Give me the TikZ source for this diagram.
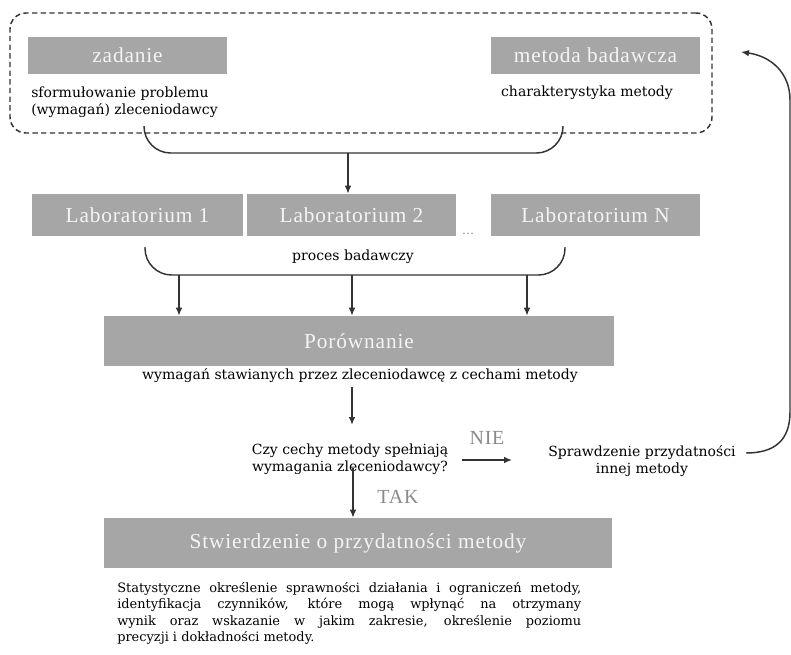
\documentclass[tikz,border=0pt]{standalone}
\usepackage{fontspec}
\usepackage{xcolor}
\usepackage{tikz}
\usetikzlibrary{arrows.meta}
\setmainfont{DejaVu Serif}
\newfontfamily\boxfont[LetterSpace=4]{Liberation Serif}
\definecolor{boxgray}{HTML}{A6A6A6}
\definecolor{boxtext}{HTML}{F4F4F4}
\definecolor{linegray}{HTML}{333333}
\definecolor{labelgray}{HTML}{8A8A8A}

\begin{document}
\begin{tikzpicture}[x=0.75pt,y=-0.75pt,
      >={Latex[length=6pt,width=5pt]},
      greybox/.style={fill=boxgray,text=boxtext,inner sep=0pt,minimum height=31.5pt,
        font=\boxfont\fontsize{16}{18}\selectfont},
      note/.style={inner sep=0pt,align=center,font=\fontsize{10.5}{12.75}\selectfont},
      yesno/.style={text=labelgray,inner sep=0pt,font=\boxfont\fontsize{15}{17}\selectfont},
      link/.style={draw=linegray,line width=1.1pt}]
      \useasboundingbox (0,0) rectangle (791,654);
      % top group
      \node[draw=linegray,line width=1.1pt,dash pattern=on 4pt off 2.5pt,rounded corners=12pt,
        minimum width=526.5pt,minimum height=90pt] (frame) at (361,73) {};
      \node[greybox,minimum width=149.25pt,minimum height=27.75pt] (zadanie) at (127.5,55.5) {zadanie};
      \node[greybox,minimum width=156.75pt,minimum height=27.75pt] (metoda) at (595.5,55.5) {metoda badawcza};
      \node[note,align=left,anchor=west] (problem) at (31,102) {sformułowanie problemu\\(wymagań) zleceniodawcy};
      \node[note] (charakt) at (587,93) {charakterystyka metody};
      % laboratories
      \node[greybox,minimum width=158.25pt] (lab1) at (137.5,215) {Laboratorium 1};
      \node[greybox,minimum width=156.75pt] (lab2) at (351.5,215) {Laboratorium 2};
      \node[greybox,minimum width=156.75pt] (labN) at (595.5,215) {Laboratorium N};
      \node[inner sep=0pt,text=labelgray,font=\small] (dots) at (468,234) {\dots};
      \node[note] (proces) at (353,257) {proces badawczy};
      % comparison and decision
      \node[greybox,minimum width=382.5pt,minimum height=37.5pt] (porown) at (359,341) {Porównanie};
      \node[note] (wymagan) at (360,376) {wymagań stawianych przez zleceniodawcę z cechami metody};
      \node[note] (pytanie) at (350,459) {Czy cechy metody spełniają\\wymagania zleceniodawcy?};
      \node[note] (sprawdz) at (642,461) {Sprawdzenie przydatności\\innej metody};
      \node[yesno] (nie) at (487,438) {NIE};
      \node[yesno] (tak) at (398,497) {TAK};
      \node[greybox,minimum width=381pt,minimum height=37.5pt] (stwierdz) at (358,543) {Stwierdzenie o przydatności metody};
      \node[note,align=justify,text width=348pt,anchor=north west,
        font=\fontsize{9.7}{12.4}\selectfont] (opis) at (117,582)
        {Statystyczne określenie sprawności działania i~ograniczeń metody,\linebreak
         identyfikacja czynników, które mogą wpłynąć na otrzymany\linebreak
         wynik oraz wskazanie w jakim zakresie, określenie poziomu\linebreak
         precyzji i dokładności metody.};

      \coordinate (b1l) at (144,126);
      \coordinate (b1r) at (563,126);
      \coordinate (b1m) at (348,153);
      \draw[link,rounded corners=20pt] (b1l) |- (b1m) -| (b1r);
      \draw[link,->] (b1m) -- (b1m |- lab2.north);

      \coordinate (b2l) at (145,247);
      \coordinate (b2r) at (565,247);
      \coordinate (b2m) at (352,275);
      \draw[link,rounded corners=20pt] (b2l) |- (b2m) -| (b2r);
      \foreach \x [count=\i] in {179,352,527} {
        \coordinate (a\i) at (\x,275);
        \draw[link,->] (a\i) -- (a\i |- porown.north);
      }

      \coordinate (q1) at (352,387);
      \draw[link,->] (q1) -- ++(0,38);
      \coordinate (q2) at (353,468);
      \draw[link,->] (q2) -- (q2 |- stwierdz.north);
      \coordinate (n1) at (462,460);
      \draw[link,->] (n1) -- ++(50,0);

      \coordinate (f0) at (746,453);
      \coordinate (f1) at (741,52);
      \draw[link,->] (f0) .. controls (775,453) and (790,440) .. (790,412)
        -- (790,100) .. controls (790,72) and (770,56) .. (f1);
\end{tikzpicture}
\end{document}
